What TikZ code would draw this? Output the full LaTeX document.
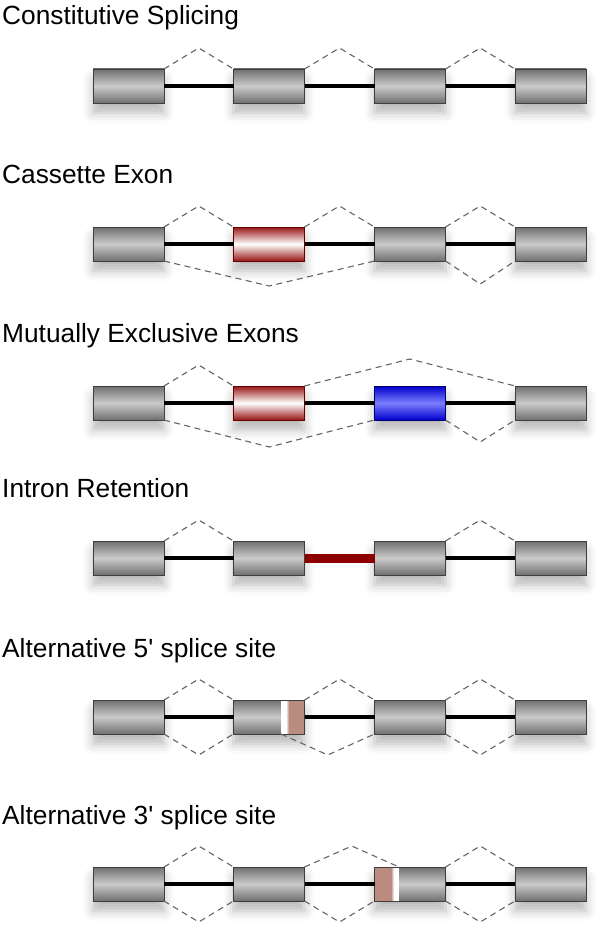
\documentclass[tikz,border=0pt]{standalone}
\usepackage{fontspec}
\setmainfont{Liberation Sans}
\usetikzlibrary{calc, shadows.blur}

\definecolor{exondark}{RGB}{112,112,112}
\definecolor{exonlight}{RGB}{202,202,202}
\definecolor{exonedge}{RGB}{62,62,62}
\definecolor{incred}{RGB}{152,22,22}
\definecolor{incrededge}{RGB}{105,0,0}
\definecolor{incblue}{RGB}{0,0,205}
\definecolor{incbluelight}{RGB}{125,125,255}
\definecolor{incblueedge}{RGB}{0,0,110}
\definecolor{junctgray}{RGB}{100,100,100}
\definecolor{retainred}{RGB}{140,0,0}
\definecolor{altbrown}{RGB}{186,140,128}

\tikzset{hop/.style={to path={-- ($(\tikztostart)!.5!(\tikztotarget)+(0,#1)$) -- (\tikztotarget)}}}

\begin{document}
\begin{tikzpicture}[x=1pt,y=1pt]
	\tikzstyle{exon}=[draw=exonedge, line width=0.8pt, minimum width=71pt, minimum height=34pt, inner sep=0pt, outer sep=0pt, top color=exondark, bottom color=exondark, middle color=exonlight, blur shadow={shadow xshift=0pt, shadow yshift=-10pt, shadow blur radius=10pt, shadow opacity=28}]
	\tikzstyle{redexon}=[exon, draw=incrededge, top color=incred, bottom color=incred, middle color=white]
	\tikzstyle{blueexon}=[exon, draw=incblueedge, top color=incblue, bottom color=incblue, middle color=incbluelight]
	\tikzstyle{intron}=[line width=3.2pt, black]
	\tikzstyle{junction}=[draw=junctgray, line width=1.1pt, dash pattern=on 6pt off 4.5pt]
	\tikzstyle{title}=[anchor=base west, inner sep=0pt, font=\fontsize{26.3}{31}\selectfont]
	\useasboundingbox (0,0) rectangle (600,-928);

	% constitutive splicing
	\node[title] (t1) at (2,-25) {Constitutive Splicing};
	\foreach \i/\x in {1/128.5,2/269,3/410,4/550.5}
		\node[exon] (cs\i) at (\x,-86) {};
	\draw[intron] (cs1) -- (cs2) (cs2) -- (cs3) (cs3) -- (cs4);
	\draw[junction] (cs1.north east) to[hop=21] (cs2.north west);
	\draw[junction] (cs2.north east) to[hop=21] (cs3.north west);
	\draw[junction] (cs3.north east) to[hop=21] (cs4.north west);

	% cassette exon
	\node[title] (t2) at (2,-183) {Cassette Exon};
	\node[exon] (ce1) at (128.5,-244) {};
	\node[redexon] (ce2) at (269,-244) {};
	\node[exon] (ce3) at (410,-244) {};
	\node[exon] (ce4) at (550.5,-244) {};
	\draw[intron] (ce1) -- (ce2) (ce2) -- (ce3) (ce3) -- (ce4);
	\draw[junction] (ce1.north east) to[hop=21] (ce2.north west);
	\draw[junction] (ce2.north east) to[hop=21] (ce3.north west);
	\draw[junction] (ce3.north east) to[hop=21] (ce4.north west);
	\draw[junction] (ce1.south east) to[hop=-25] (ce3.south west);
	\draw[junction] (ce3.south east) to[hop=-23] (ce4.south west);

	% mutually exclusive exons
	\node[title] (t3) at (2,-342) {Mutually Exclusive Exons};
	\node[exon] (me1) at (128.5,-403) {};
	\node[redexon] (me2) at (269,-403) {};
	\node[blueexon] (me3) at (410,-403) {};
	\node[exon] (me4) at (550.5,-403) {};
	\draw[intron] (me1) -- (me2) (me2) -- (me3) (me3) -- (me4);
	\draw[junction] (me1.north east) to[hop=21] (me2.north west);
	\draw[junction] (me2.north east) to[hop=27] (me4.north west);
	\draw[junction] (me1.south east) to[hop=-27] (me3.south west);
	\draw[junction] (me3.south east) to[hop=-22] (me4.south west);

	% intron retention
	\node[title] (t4) at (2,-497) {Intron Retention};
	\foreach \i/\x in {1/128.5,2/269,3/410,4/550.5}
		\node[exon] (ir\i) at (\x,-558) {};
	\draw[intron] (ir1) -- (ir2) (ir3) -- (ir4);
	\draw[line width=9pt, retainred] (ir2) -- (ir3);
	\draw[junction] (ir1.north east) to[hop=21] (ir2.north west);
	\draw[junction] (ir3.north east) to[hop=21] (ir4.north west);

	% alternative 5' splice site
	\node[title] (t5) at (2,-657) {Alternative 5\textquotesingle{} splice site};
	\foreach \i/\x in {1/128.5,2/269,3/410,4/550.5}
		\node[exon] (af\i) at (\x,-717) {};
	\coordinate (af2cut) at ($(af2.south east)+(-23.5,0)$);
	\fill[white] (af2cut) rectangle ($(af2.north east)+(-18.5,0)$);
	\shade[left color=white, right color=altbrown] ($(af2.south east)+(-18.6,0)$) rectangle ($(af2.north east)+(-15.5,0)$);
	\fill[altbrown] ($(af2.south east)+(-15.6,0)$) rectangle (af2.north east);
	\draw[exonedge, line width=0.8pt] (af2.south west) rectangle (af2.north east);
	\draw[intron] (af1) -- (af2) (af2) -- (af3) (af3) -- (af4);
	\draw[junction] (af1.north east) to[hop=21] (af2.north west);
	\draw[junction] (af2.north east) to[hop=21] (af3.north west);
	\draw[junction] (af3.north east) to[hop=21] (af4.north west);
	\draw[junction] (af1.south east) to[hop=-21] (af2.south west);
	\draw[junction] (af2cut) to[hop=-21] (af3.south west);
	\draw[junction] (af3.south east) to[hop=-21] (af4.south west);

	% alternative 3' splice site
	\node[title] (t6) at (2,-824) {Alternative 3\textquotesingle{} splice site};
	\foreach \i/\x in {1/128.5,2/269,3/410,4/550.5}
		\node[exon] (at\i) at (\x,-884) {};
	\coordinate (at3cut) at ($(at3.north west)+(24.5,0)$);
	\fill[altbrown] (at3.south west) rectangle ($(at3.north west)+(16.5,0)$);
	\shade[left color=altbrown, right color=white] ($(at3.south west)+(16.4,0)$) rectangle ($(at3.north west)+(19.5,0)$);
	\fill[white] ($(at3.south west)+(19.4,0)$) rectangle (at3cut);
	\draw[exonedge, line width=0.8pt] (at3.south west) rectangle (at3.north east);
	\draw[intron] (at1) -- (at2) (at2) -- (at3) (at3) -- (at4);
	\draw[junction] (at1.north east) to[hop=21] (at2.north west);
	\draw[junction] (at2.north east) to[hop=21] (at3cut);
	\draw[junction] (at3.north east) to[hop=21] (at4.north west);
	\draw[junction] (at1.south east) to[hop=-21] (at2.south west);
	\draw[junction] (at2.south east) to[hop=-21] (at3.south west);
	\draw[junction] (at3.south east) to[hop=-21] (at4.south west);
\end{tikzpicture}
\end{document}
